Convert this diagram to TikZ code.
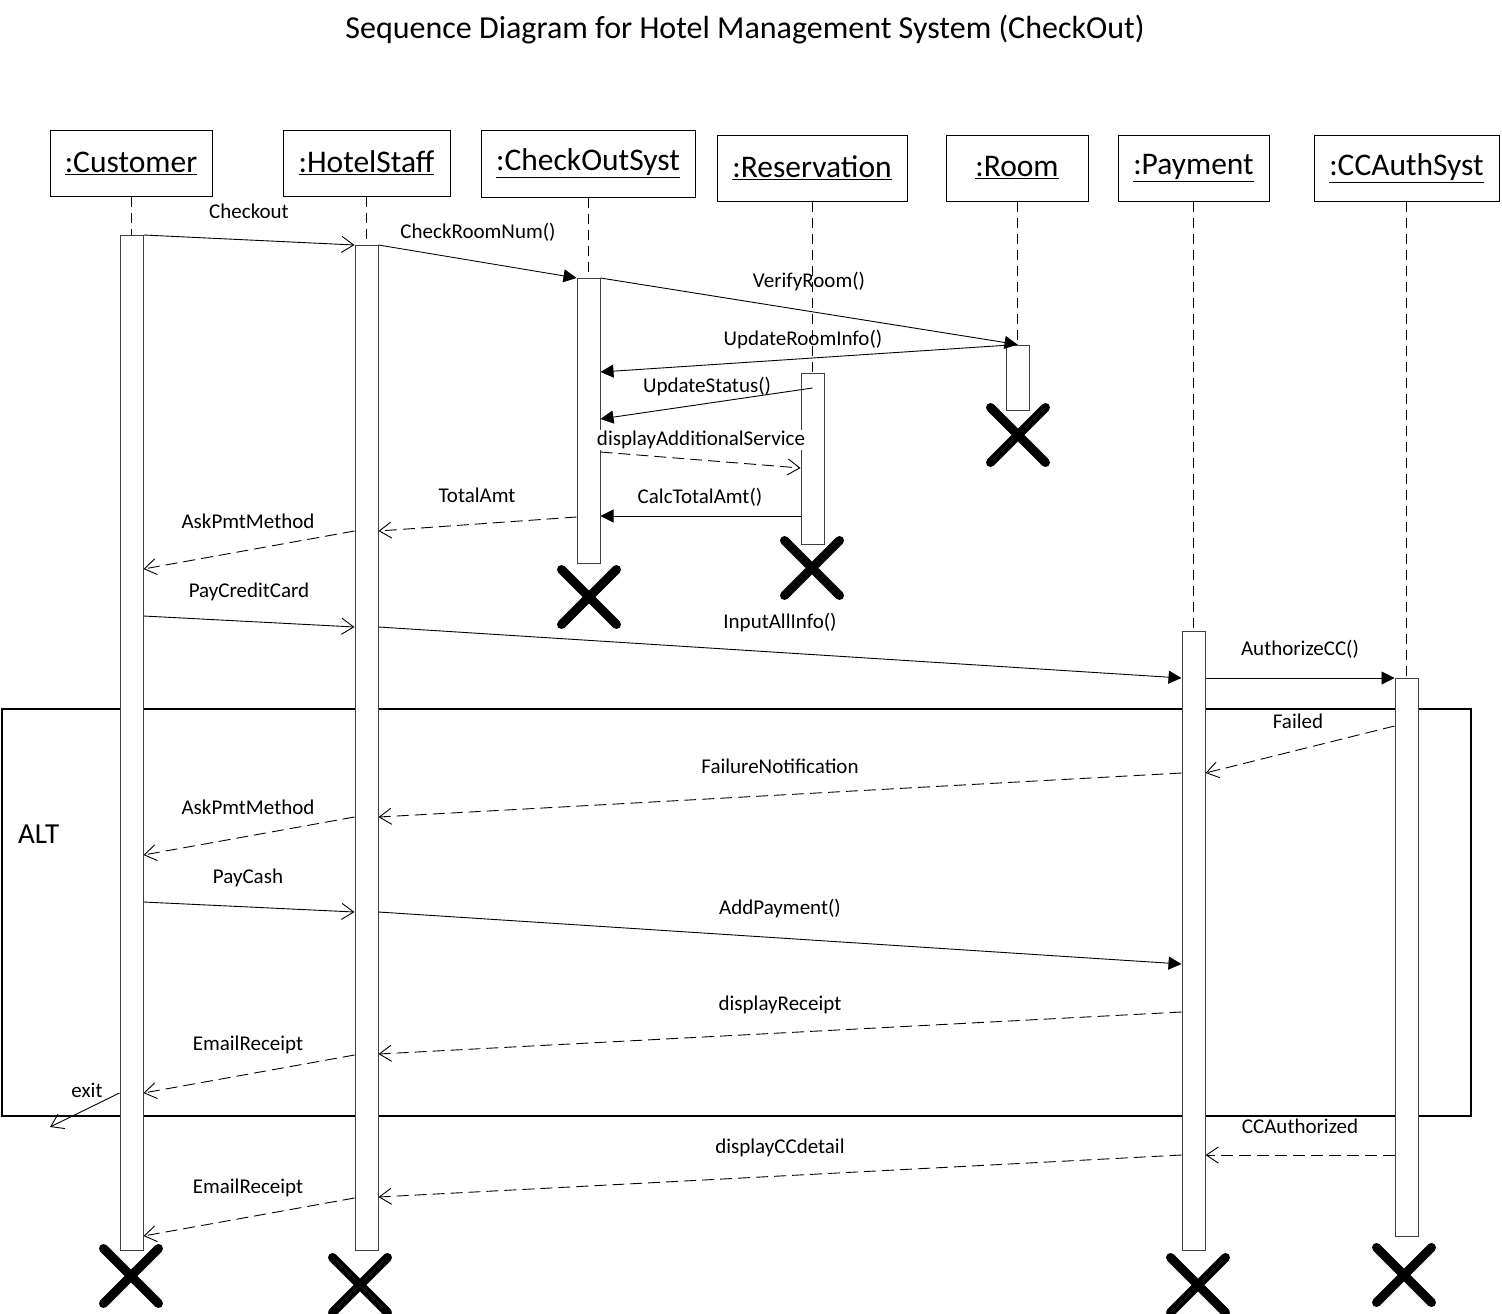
\documentclass[tikz,border=0pt]{standalone}
\usepackage{fontspec}
\setmainfont{Carlito}
\usetikzlibrary{arrows.meta,shapes.misc}
\begin{document}
\begin{tikzpicture}[x=1pt,y=-1pt,
 hdr/.style={draw, line width=1pt, minimum height=66pt, font=\fontsize{31.5}{36}\selectfont, inner sep=0pt},
 life/.style={line width=1pt, dash pattern=on 10pt off 6pt},
 actbar/.style={draw=black!75, fill=white, line width=1pt, minimum width=23pt, inner sep=0pt},
 sync/.style={line width=0.9pt, -{Triangle[length=13pt,width=13pt]}},
 async/.style={line width=0.9pt, -{Straight Barb[length=12pt,width=16pt]}},
 reply/.style={async, dash pattern=on 12pt off 6pt},
 lbl/.style={font=\fontsize{21}{25}\selectfont, inner sep=1pt},
 kill/.style={cross out, draw, line width=9pt, line cap=round, minimum size=46pt, inner sep=0pt}
]
\useasboundingbox[fill=white] (0,0) rectangle (1502,1314);

\node[font=\fontsize{32}{38}\selectfont] (title) at (745,30) {Sequence Diagram for Hotel Management System (CheckOut)};

% headers
\node[hdr, minimum width=162pt] (hCust) at (131,163) {\raisebox{-2pt}{\underline{:Customer}}};
\node[hdr, minimum width=167pt] (hStaff) at (366.5,163) {\raisebox{-2pt}{\underline{:HotelStaff}}};
\node[hdr, minimum width=214pt, minimum height=67pt] (hCOS) at (588,163.5) {\raisebox{-2pt}{\underline{:CheckOutSyst}}};
\node[hdr, minimum width=190pt] (hRes) at (812,168) {\raisebox{-2pt}{\underline{:Reservation}}};
\node[hdr, minimum width=142pt] (hRoom) at (1017,168) {\raisebox{-2pt}{\underline{:Room}}};
\node[hdr, minimum width=151pt] (hPay) at (1193.5,168) {\raisebox{-2pt}{\underline{:Payment}}};
\node[hdr, minimum width=185pt] (hCC) at (1406.5,168) {\raisebox{-2pt}{\underline{:CCAuthSyst}}};

% activation bar positions (coordinates only)
\coordinate (cCust) at (131.5,742.5);
\coordinate (cStaff) at (366.5,747.5);
\coordinate (cCOS) at (588.5,420.5);
\coordinate (cRes) at (812.5,458.5);
\coordinate (cRoom) at (1017.5,377.5);
\coordinate (cPay) at (1193.5,940.5);
\coordinate (cCC) at (1406.5,957);

% lifelines
\draw[life] (hCust.south) -- (hCust.south |- 0,235);
\draw[life] (hStaff.south) -- (hStaff.south |- 0,245);
\draw[life] (hCOS.south) -- (hCOS.south |- 0,278);
\draw[life] (hRes.south) -- (hRes.south |- 0,373);
\draw[life] (hRoom.south) -- (hRoom.south |- 0,345);
\draw[life] (hPay.south) -- (hPay.south |- 0,631);
\draw[life] (hCC.south) -- (hCC.south |- 0,678);

% ALT frame
\node[draw, line width=2pt, minimum width=1469pt, minimum height=407pt, inner sep=0pt] (alt) at (736.5,912.5) {};
\node[font=\fontsize{29}{34}\selectfont, anchor=west, inner sep=0pt] (altlbl) at (18,834) {ALT};

% activation bars
\node[actbar, minimum height=1015pt] (aCust) at (cCust) {};
\node[actbar, minimum height=1005pt] (aStaff) at (cStaff) {};
\node[actbar, minimum height=285pt] (aCOS) at (cCOS) {};
\node[actbar, minimum height=171pt] (aRes) at (cRes) {};
\node[actbar, minimum height=65pt] (aRoom) at (cRoom) {};
\node[actbar, minimum height=619pt] (aPay) at (cPay) {};
\node[actbar, minimum height=558pt] (aCC) at (cCC) {};

% destroy marks
\node[kill] (xCust) at (131,1276) {};
\node[kill] (xStaff) at (360,1285) {};
\node[kill] (xCOS) at (589,597) {};
\node[kill] (xRes) at (812,568) {};
\node[kill] (xRoom) at (1018,435) {};
\node[kill] (xPay) at (1198,1285) {};
\node[kill] (xCC) at (1404,1275) {};

% messages
\draw[async] (aCust.east |- 0,235) -- (aStaff.west |- 0,245);
\node[lbl] (l1) at (249,211) {Checkout};
\draw[sync] (aStaff.east |- 0,245) -- (aCOS.west |- 0,278);
\node[lbl] (l2) at (478,232) {CheckRoomNum()};
\draw[sync] (aCOS.east |- 0,278) -- (aRoom.north);
\node[lbl] (l3) at (809,282) {VerifyRoom()};
\draw[sync] (aRoom.north) -- (aCOS.east |- 0,372);
\node[lbl] (l4) at (803,340) {UpdateRoomInfo()};
\draw[sync] (aRes.center |- 0,388) -- (aCOS.east |- 0,419);
\node[lbl] (l5) at (707,387) {UpdateStatus()};
\draw[reply] (aCOS.east |- 0,452) -- (aRes.west |- 0,468);
\node[lbl, fill=white] (l6) at (701,440) {displayAdditionalService};
\draw[sync] (aRes.west |- 0,516) -- (aCOS.east |- 0,516);
\node[lbl] (l7) at (700,497) {CalcTotalAmt()};
\draw[reply] (aCOS.west |- 0,517) -- (aStaff.east |- 0,531);
\node[lbl] (l8) at (477,495) {TotalAmt};
\draw[reply] (aStaff.west |- 0,531) -- (aCust.east |- 0,569);
\node[lbl] (l9) at (248,521) {AskPmtMethod};
\draw[async] (aCust.east |- 0,616) -- (aStaff.west |- 0,627);
\node[lbl] (l10) at (249,592) {PayCreditCard};
\draw[sync] (aStaff.east |- 0,627) -- (aPay.west |- 0,678);
\node[lbl] (l11) at (780,623) {InputAllInfo()};
\draw[sync] (aPay.east |- 0,678) -- (aCC.west |- 0,678);
\node[lbl] (l12) at (1300,649) {AuthorizeCC()};
\draw[reply] (aCC.west |- 0,726) -- (aPay.east |- 0,773);
\node[lbl, fill=white] (l13) at (1298,721) {Failed};
\draw[reply] (aPay.west |- 0,773) -- (aStaff.east |- 0,817);
\node[lbl] (l14) at (780,766) {FailureNotification};
\draw[reply] (aStaff.west |- 0,817) -- (aCust.east |- 0,855);
\node[lbl] (l15) at (248,807) {AskPmtMethod};
\draw[async] (aCust.east |- 0,902) -- (aStaff.west |- 0,912);
\node[lbl] (l16) at (248,878) {PayCash};
\draw[sync] (aStaff.east |- 0,912) -- (aPay.west |- 0,964);
\node[lbl] (l17) at (780,909) {AddPayment()};
\draw[reply] (aPay.west |- 0,1012) -- (aStaff.east |- 0,1054);
\node[lbl] (l18) at (780,1005) {displayReceipt};
\draw[reply] (aStaff.west |- 0,1055) -- (aCust.east |- 0,1093);
\node[lbl] (l19) at (248,1045) {EmailReceipt};
\coordinate (exitEnd) at (50,1127);
\draw[async] (aCust.west |- 0,1093) -- (exitEnd);
\node[lbl] (l20) at (87,1090) {exit};
\draw[reply] (aCC.west |- 0,1155) -- (aPay.east |- 0,1155);
\node[lbl, fill=white] (l21) at (1300,1126) {CCAuthorized};
\draw[reply] (aPay.west |- 0,1155) -- (aStaff.east |- 0,1197);
\node[lbl] (l22) at (780,1148) {displayCCdetail};
\draw[reply] (aStaff.west |- 0,1198) -- (aCust.east |- 0,1236);
\node[lbl] (l23) at (248,1188) {EmailReceipt};
\end{tikzpicture}
\end{document}
